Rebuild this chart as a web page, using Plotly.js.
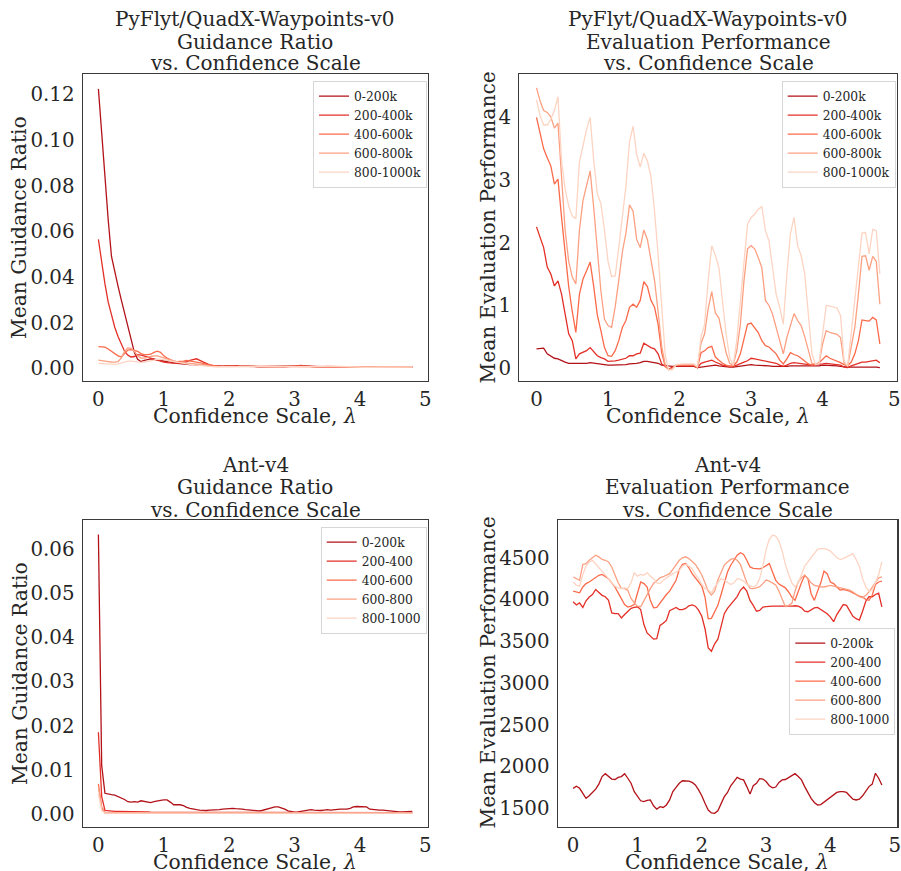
<!DOCTYPE html>
<html><head><meta charset="utf-8">
<script src="https://cdn.plot.ly/plotly-3.0.1.min.js"></script>
<style>html,body{margin:0;padding:0;background:#fff}#chart{width:901px;height:871px}</style>
</head><body><div id="chart"></div>
<script>
// x grid: confidence scale lambda, 0 .. 4.8 in steps of 0.05
const lambdas = Array.from({length: 97}, (_, i) => Math.round(i * 5) / 100);

const labelsK = ['0-200k', '200-400k', '400-600k', '600-800k', '800-1000k'];
const labelsAnt = ['0-200k', '200-400', '400-600', '600-800', '800-1000'];
const lineColors = ['#b21218', '#e32f27', '#fb6a4a', '#fca082', '#fdd4c2'];

// ---------- PyFlyt guidance ratio ----------
const quadGuide0 = [0.1224,0.102,0.083,0.065,0.049,0.042,0.036,0.030,0.024,0.019,
0.012,0.007,0.004,0.003,0.0035,0.004,0.0042,0.004,0.0037,0.0034,
0.003,0.0028,0.0026,0.0024,0.0022,0.002,0.0019,0.0018,0.0017,0.0016,
0.0015,0.0014,0.0013,0.0012,0.0011,0.001,0.0009,
0.0009,0.001,0.0011,0.0012,0.0012,0.0012,0.0011,0.001,0.0009,0.0009,
0.0009,0.0008,0.0008,0.0008,0.0008,0.0009,0.0009,0.0008,0.0008,0.0008,
0.0008,0.0008,0.0009,0.001,0.0011,0.0012,0.0012,0.0011,0.001,0.0009,
0.0008,0.0008,0.0008,0.0008,0.0007,0.0007,0.0008,0.0008,0.0009,0.0008,
0.0008,0.0007,0.0007,0.0007,0.0007,0.0006,0.0006,0.0007,0.0007,0.0007,
0.0006,0.0006,0.0006,0.0006,0.0006,0.0007,0.0007,0.0007,0.0007,0.0007];
const quadGuide1 = [0.0565,0.046,0.037,0.029,0.023,0.018,0.014,0.0105,0.0075,0.0058,
0.005,0.0052,0.006,0.0058,0.0055,0.005,0.0045,0.004,0.0035,0.003,
0.0027,0.0025,0.0023,0.0022,0.0022,0.0023,0.0025,0.003,0.0035,0.004,
0.0042,0.0035,0.0028,0.002,0.0015,0.0012,0.001,0.0009,0.0009,0.001,
0.0011,0.0012,0.0011,0.001,0.0009,0.0008,0.0008,0.0008,0.0007,0.0007,
0.0007,0.0008,0.0008,0.0007,0.0007,0.0006,0.0006,0.0007,0.0008,0.001,
0.0011,0.0012,0.0013,0.0011,0.0009,0.0008,0.0007,0.0007,0.0007,0.0006,
0.0006,0.0007,0.0009,0.0009,0.0008,0.0007,0.0007,0.0006,0.0006,0.0006,
0.0007,0.0007,0.0006,0.0006,0.0005,0.0005,0.0006,0.0006,0.0006,0.0005,
0.0005,0.0005,0.0006,0.0006,0.0006,0.0006,0.0006];
const quadGuide2 = [0.0095,0.0095,0.0093,0.0085,0.0075,0.0065,0.0055,0.005,0.0065,0.008,
0.0082,0.008,0.0075,0.0065,0.006,0.006,0.0062,0.007,0.0075,0.007,
0.0055,0.0045,0.0038,0.0032,0.003,0.003,0.0032,0.0035,0.0033,0.003,
0.0028,0.0025,0.0022,0.0018,0.0015,0.0012,0.001,0.0009,0.0009,0.001,
0.001,0.001,0.0009,0.0009,0.0008,0.0008,0.0008,0.0009,0.0009,0.0008,
0.0008,0.0008,0.0007,0.0007,0.0008,0.0008,0.0007,0.0007,0.0008,0.0008,
0.0009,0.0009,0.0008,0.0008,0.0007,0.0007,0.0008,0.0008,0.0009,0.0008,
0.0008,0.0008,0.0007,0.0007,0.0007,0.0008,0.0008,0.0007,0.0007,0.0007,
0.0006,0.0006,0.0006,0.0007,0.0007,0.0007,0.0006,0.0006,0.0006,0.0006,
0.0006,0.0006,0.0005,0.0005,0.0006,0.0006,0.0006];
const quadGuide3 = [0.0036,0.0035,0.0033,0.003,0.0028,0.0027,0.003,0.0045,0.0075,0.009,
0.0088,0.0075,0.0055,0.0045,0.0045,0.005,0.0052,0.0055,0.0055,0.005,
0.0045,0.004,0.0035,0.003,0.0028,0.0026,0.0025,0.0025,0.0024,0.0022,
0.002,0.0018,0.0015,0.0012,0.001,0.0009,0.0008,0.0008,0.0008,0.0008,
0.0008,0.0008,0.0008,0.0007,0.0007,0.0007,0.0007,0.0008,0.0008,0.0007,
0.0007,0.0006,0.0006,0.0006,0.0007,0.0007,0.0006,0.0006,0.0006,0.0006,
0.0007,0.0007,0.0007,0.0006,0.0006,0.0006,0.0006,0.0007,0.0008,0.0009,
0.0010,0.0009,0.0008,0.0007,0.0006,0.0006,0.0006,0.0006,0.0006,0.0007,
0.0007,0.0007,0.0006,0.0005,0.0005,0.0005,0.0006,0.0006,0.0006,0.0005,
0.0005,0.0005,0.0005,0.0006,0.0006,0.0006,0.0006];
const quadGuide4 = [0.0022,0.0021,0.002,0.0019,0.0018,0.0018,0.002,0.0025,0.003,0.0032,
0.0032,0.003,0.0028,0.0026,0.0028,0.003,0.0033,0.0036,0.004,0.004,
0.0038,0.0035,0.0032,0.003,0.0027,0.0025,0.0022,0.002,0.0018,0.0016,
0.0015,0.0013,0.0012,0.001,0.0009,0.0008,0.0008,0.0007,0.0007,0.0007,
0.0007,0.0006,0.0006,0.0006,0.0006,0.0006,0.0005,0.0005,0.0005,0.0006,
0.0006,0.0006,0.0006,0.0005,0.0005,0.0005,0.0005,0.0005,0.0006,0.0006,
0.0006,0.0006,0.0005,0.0005,0.0005,0.0005,0.0006,0.0006,0.0006,0.0005,
0.0005,0.0005,0.0006,0.0008,0.0009,0.0008,0.0007,0.0006,0.0006,0.0005,
0.0005,0.0005,0.0005,0.0005,0.0005,0.0005,0.0005,0.0005,0.0006,0.0006,
0.0006,0.0005,0.0005,0.0005,0.0005,0.0005,0.0006];

// ---------- PyFlyt evaluation performance ----------
const quadEval0 = [0.31,0.32,0.32,0.23,0.19,0.16,0.15,0.12,0.10,0.08,
0.08,0.07,0.07,0.07,0.08,0.09,0.08,0.08,0.07,0.06,
0.05,0.05,0.05,0.05,0.05,0.06,0.07,0.07,0.08,0.09,
0.11,0.11,0.10,0.09,0.08,0.05,0.04,0.03,0.03,0.03,
0.03,0.03,0.03,0.03,0.03,0.01,0.02,0.03,0.04,0.05,
0.05,0.04,0.03,0.03,0.02,0.02,0.03,0.04,0.05,0.06,
0.06,0.05,0.05,0.04,0.04,0.04,0.03,0.03,0.02,0.02,
0.03,0.04,0.04,0.04,0.04,0.04,0.03,0.03,0.04,0.04,
0.05,0.05,0.04,0.04,0.04,0.03,0.02,0.02,0.02,0.02,
0.02,0.03,0.03,0.02,0.02,0.02,0.01];
const quadEval1 = [2.25,2.08,1.92,1.61,1.50,1.31,1.39,1.18,0.86,0.55,
0.44,0.15,0.23,0.26,0.28,0.33,0.26,0.20,0.17,0.15,
0.11,0.11,0.12,0.13,0.14,0.16,0.20,0.20,0.23,0.24,
0.40,0.36,0.33,0.31,0.23,0.07,0.03,-0.01,0.02,0.04,
0.04,0.04,0.04,0.04,0.04,0.01,0.08,0.10,0.12,0.13,
0.10,0.07,0.05,0.04,0.03,0.03,0.05,0.08,0.10,0.12,
0.16,0.15,0.14,0.13,0.12,0.11,0.10,0.08,0.05,0.03,
0.05,0.08,0.09,0.08,0.08,0.07,0.06,0.05,0.06,0.06,
0.07,0.08,0.07,0.06,0.05,0.05,0.02,0.01,0.04,0.06,
0.07,0.10,0.10,0.11,0.13,0.13,0.09];
const quadEval2 = [3.99,3.75,3.49,3.35,3.22,2.93,3.01,2.40,1.80,1.30,
0.90,0.57,1.18,1.42,1.55,1.69,1.30,0.85,0.60,0.33,
0.20,0.19,0.28,0.44,0.65,0.76,0.97,1.02,0.97,1.08,
1.38,1.30,1.08,0.97,0.70,0.25,0.03,-0.02,0.00,0.05,
0.05,0.05,0.05,0.05,0.05,0.01,0.25,0.28,0.33,0.35,
0.18,0.13,0.08,0.05,0.03,0.04,0.10,0.23,0.49,0.70,
0.72,0.65,0.57,0.44,0.36,0.34,0.29,0.23,0.13,0.07,
0.15,0.25,0.22,0.20,0.16,0.12,0.07,0.05,0.06,0.09,
0.15,0.20,0.16,0.14,0.12,0.09,0.06,0.04,0.10,0.23,
0.44,0.77,0.76,0.75,0.81,0.77,0.39];
const quadEval3 = [4.46,4.25,4.10,4.07,4.00,3.82,3.90,3.00,2.20,1.70,
1.45,1.34,2.20,2.67,2.93,3.14,2.55,1.82,1.23,0.78,
0.68,0.65,0.98,1.40,1.85,2.15,2.60,2.50,2.05,1.92,
2.20,2.05,1.70,1.40,0.90,0.35,0.05,-0.02,-0.01,0.05,
0.06,0.06,0.06,0.06,0.06,0.02,0.40,0.55,0.95,1.22,
0.88,0.80,0.50,0.25,0.08,0.05,0.28,0.70,1.39,1.90,
1.95,1.90,1.76,1.60,1.08,1.00,0.86,0.65,0.44,0.23,
0.49,0.70,0.87,0.76,0.68,0.50,0.28,0.08,0.07,0.08,
0.39,0.60,0.57,0.56,0.54,0.49,0.08,0.04,0.33,0.65,
1.18,1.78,1.79,1.56,1.78,1.70,1.02];
const quadEval4 = [4.27,4.02,3.87,3.87,3.96,4.10,4.32,3.30,2.85,2.58,
2.42,2.38,3.28,3.55,3.80,3.99,3.30,2.78,2.62,2.20,
1.70,1.46,1.47,1.92,2.45,2.90,3.60,3.85,3.40,3.20,
3.42,3.30,3.05,2.50,1.80,1.00,0.20,-0.03,-0.02,0.06,
0.07,0.07,0.07,0.07,0.07,0.02,0.50,0.70,1.40,1.95,
1.80,1.60,1.08,0.55,0.17,0.05,0.45,1.10,1.70,2.29,
2.40,2.45,2.53,2.57,2.19,2.03,1.60,1.18,0.97,0.70,
1.50,2.14,2.40,1.95,1.79,1.50,0.86,0.23,0.06,0.07,
0.55,1.00,0.99,0.98,0.96,0.84,0.12,0.04,0.55,1.08,
1.60,2.15,2.16,1.82,2.21,2.19,1.50];

// ---------- Ant-v4 guidance ratio ----------
const antGuide0 = [0.0633,0.011,0.0047,0.0045,0.0044,0.0043,0.004,0.0037,0.0033,0.0028,
0.0027,0.0028,0.0027,0.003,0.0029,0.0027,0.0026,0.0028,0.003,0.0031,
0.0032,0.0032,0.0027,0.0021,0.0021,0.0021,0.0019,0.0015,0.0013,0.0011,
0.001,0.0009,0.0008,0.0008,0.0009,0.0009,0.001,0.001,0.0011,0.0012,
0.0012,0.0013,0.0012,0.0012,0.0011,0.001,0.0009,0.0008,0.0008,0.0007,
0.0008,0.001,0.0013,0.0015,0.0016,0.0016,0.0014,0.0011,0.0007,0.0005,
0.0004,0.0005,0.0006,0.0008,0.0009,0.001,0.0009,0.0008,0.0008,0.0009,
0.001,0.0009,0.001,0.001,0.0011,0.0011,0.0011,0.0013,0.0016,0.0017,
0.0017,0.0017,0.0016,0.0011,0.001,0.001,0.0009,0.0009,0.0008,0.0008,
0.0007,0.0006,0.0005,0.0005,0.0005,0.0006,0.0006];
const antGuide1 = [0.0185,0.004,0.0008,0.0007,0.0007,0.0006,0.0006,0.0006,0.0005,0.0005,
0.0005,0.0005,0.0005,0.0005,0.0005,0.0005,0.0004,0.0004,0.0004,0.0004,
0.0004,0.0004,0.0004,0.0004,0.0003,0.0003,0.0003,0.0003,0.0003,0.0003,
0.0003,0.0003,0.0003,0.0003,0.0003,0.0003,0.0003,0.0003,0.0003,0.0004,
0.0004,0.0004,0.0004,0.0004,0.0003,0.0003,0.0003,0.0003,0.0003,0.0003,
0.0003,0.0003,0.0003,0.0003,0.0003,0.0003,0.0003,0.0003,0.0003,0.0003,
0.0003,0.0003,0.0003,0.0003,0.0003,0.0003,0.0003,0.0003,0.0003,0.0003,
0.0003,0.0003,0.0003,0.0003,0.0003,0.0003,0.0003,0.0003,0.0003,0.0003,
0.0003,0.0003,0.0003,0.0003,0.0003,0.0003,0.0003,0.0003,0.0003,0.0003,
0.0003,0.0003,0.0003,0.0003,0.0003,0.0003,0.0003];
const antGuide2 = [0.0068,0.0015,0.0003,0.0003,0.0003,0.0003,0.0003,0.0003,0.0003,0.0003,
0.0003,0.0003,0.0003,0.0003,0.0003,0.0003,0.0003,0.0003,0.0003,0.0003,
0.0002,0.0002,0.0002,0.0002,0.0002,0.0002,0.0002,0.0002,0.0002,0.0002,
0.0002,0.0002,0.0002,0.0002,0.0002,0.0002,0.0002,0.0002,0.0002,0.0002,
0.0002,0.0002,0.0002,0.0002,0.0002,0.0002,0.0002,0.0002,0.0002,0.0002,
0.0002,0.0002,0.0002,0.0002,0.0002,0.0002,0.0002,0.0002,0.0002,0.0002,
0.0002,0.0002,0.0002,0.0002,0.0002,0.0002,0.0002,0.0002,0.0002,0.0002,
0.0002,0.0002,0.0002,0.0002,0.0002,0.0002,0.0002,0.0002,0.0002,0.0002,
0.0002,0.0002,0.0002,0.0002,0.0002,0.0002,0.0002,0.0002,0.0002,0.0002,
0.0002,0.0002,0.0002,0.0002,0.0002,0.0002,0.0002];
const antGuide3 = [0.0062,0.0012,0.0002,0.0002,0.0002,0.0002,0.0002,0.0002,0.0002,0.0002,
0.0002,0.0002,0.0002,0.0002,0.0002,0.0002,0.0002,0.0002,0.0002,0.0002,
0.0002,0.0002,0.0002,0.0002,0.0002,0.0002,0.0002,0.0002,0.0002,0.0002,
0.0002,0.0002,0.0002,0.0002,0.0002,0.0002,0.0002,0.0002,0.0002,0.0002,
0.0002,0.0002,0.0002,0.0002,0.0002,0.0002,0.0002,0.0002,0.0002,0.0002,
0.0002,0.0002,0.0002,0.0002,0.0002,0.0002,0.0002,0.0002,0.0002,0.0002,
0.0002,0.0002,0.0002,0.0002,0.0002,0.0002,0.0002,0.0002,0.0002,0.0002,
0.0002,0.0002,0.0002,0.0002,0.0002,0.0002,0.0002,0.0002,0.0002,0.0002,
0.0002,0.0002,0.0002,0.0002,0.0002,0.0002,0.0002,0.0002,0.0002,0.0002,
0.0002,0.0002,0.0002,0.0002,0.0002,0.0002,0.0002];
const antGuide4 = [0.0045,0.0008,0.0002,0.0002,0.0002,0.0002,0.0002,0.0002,0.0002,0.0002,
0.0002,0.0002,0.0002,0.0002,0.0002,0.0002,0.0002,0.0002,0.0002,0.0002,
0.0002,0.0002,0.0002,0.0002,0.0002,0.0002,0.0002,0.0002,0.0002,0.0002,
0.0002,0.0002,0.0002,0.0002,0.0002,0.0002,0.0002,0.0002,0.0002,0.0002,
0.0002,0.0002,0.0002,0.0002,0.0002,0.0002,0.0002,0.0002,0.0002,0.0002,
0.0002,0.0002,0.0002,0.0002,0.0002,0.0002,0.0002,0.0002,0.0002,0.0002,
0.0002,0.0002,0.0002,0.0002,0.0002,0.0002,0.0002,0.0002,0.0002,0.0002,
0.0002,0.0002,0.0002,0.0002,0.0002,0.0002,0.0002,0.0002,0.0002,0.0002,
0.0002,0.0002,0.0002,0.0002,0.0002,0.0002,0.0002,0.0002,0.0002,0.0002,
0.0002,0.0002,0.0002,0.0002,0.0002,0.0002,0.0002];

// ---------- Ant-v4 evaluation performance ----------
const antEval0 = [1739,1765,1740,1680,1620,1650,1690,1730,1790,1880,
1915,1880,1850,1845,1870,1880,1915,1860,1800,1700,
1640,1590,1580,1595,1600,1530,1490,1520,1510,1540,
1600,1700,1750,1800,1830,1830,1825,1810,1780,1720,
1650,1560,1480,1445,1440,1470,1560,1640,1690,1770,
1820,1870,1850,1840,1760,1670,1770,1800,1855,1850,
1820,1770,1745,1755,1810,1840,1845,1870,1890,1915,
1880,1840,1760,1680,1620,1570,1540,1545,1575,1610,
1630,1660,1690,1700,1700,1690,1650,1610,1600,1610,
1650,1700,1760,1790,1920,1860,1780];
const antEval1 = [3973,3935,3960,3905,3985,4030,4060,4121,4085,4050,
4033,3990,3840,3830,3832,3780,3820,3860,3895,3905,
3913,3880,3700,3600,3562,3525,3530,3690,3715,3750,
3865,3890,3905,3880,3880,3893,3925,3935,3920,3873,
3800,3650,3420,3380,3470,3525,3680,3830,3893,3940,
3990,4035,4110,4150,4100,3990,3930,3860,3870,3910,
3915,3921,3921,3921,3921,3921,3918,3913,3920,3925,
3920,3900,3860,3854,3880,3900,3905,3880,3860,3830,
3790,3734,3820,3880,3940,3930,3873,3800,3770,3754,
3860,3980,4033,4033,4060,4075,3913];
const antEval2 = [4100,4090,4080,4150,4190,4210,4240,4270,4290,4300,
4280,4250,4200,4150,4080,4000,3940,3910,3920,3940,
4080,4210,4190,4150,3990,3900,3905,3960,4010,4060,
4100,4170,4230,4360,4420,4430,4380,4310,4260,4210,
4160,4030,3770,3775,3850,3930,4060,4190,4330,4410,
4470,4530,4560,4540,4470,4390,4372,4370,4368,4380,
4400,4430,4330,4230,4185,4160,4140,4090,4030,3990,
4100,4200,4290,4250,4070,3990,4100,4200,4340,4310,
4210,4190,4150,4113,4120,4110,4100,4080,4060,4040,
4030,4000,3990,4050,4180,4210,4220];
const antEval3 = [4270,4250,4230,4420,4430,4470,4500,4530,4510,4480,
4470,4450,4390,4300,4200,4133,4130,4110,4013,3960,
3920,3914,3990,4073,4130,4193,4230,4260,4273,4290,
4310,4360,4420,4470,4500,4512,4490,4460,4420,4360,
4293,4200,4100,4053,4100,4233,4320,4413,4450,4480,
4492,4470,4420,4300,4200,4133,4130,4140,4153,4190,
4233,4220,4200,4173,4100,4000,3914,3930,3954,4100,
4213,4260,4293,4250,4200,4170,4160,4153,4150,4160,
4170,4160,4150,4140,4130,4120,4113,4090,4060,4033,
4020,4050,4093,4150,4213,4260,4270];
const antEval4 = [4210,4170,4160,4300,4400,4450,4470,4420,4380,4340,
4300,4250,4200,4160,4140,4130,4140,4130,4200,4320,
4280,4300,4290,4320,4280,4250,4200,4190,4230,4260,
4280,4310,4330,4350,4400,4420,4400,4370,4300,4250,
4180,4130,4120,4080,4150,4200,4250,4230,4200,4180,
4200,4250,4240,4220,4180,4160,4150,4170,4250,4400,
4600,4720,4770,4760,4700,4580,4420,4300,4200,4150,
4200,4300,4400,4450,4500,4560,4600,4610,4610,4600,
4580,4540,4500,4480,4490,4510,4530,4550,4480,4400,
4250,4150,4100,4110,4200,4300,4450];

const FONT = 'DejaVu Serif';
const TXT = '#262626';

const panels = [
  {series: [quadGuide0, quadGuide1, quadGuide2, quadGuide3, quadGuide4], labels: labelsK},
  {series: [quadEval0, quadEval1, quadEval2, quadEval3, quadEval4], labels: labelsK},
  {series: [antGuide0, antGuide1, antGuide2, antGuide3, antGuide4], labels: labelsAnt},
  {series: [antEval0, antEval1, antEval2, antEval3, antEval4], labels: labelsAnt}
];

const traces = [];
panels.forEach((p, pi) => {
  const n = pi + 1;
  p.series.forEach((vals, si) => {
    traces.push({
      x: lambdas.slice(0, vals.length), y: vals,
      xaxis: 'x' + (n > 1 ? n : ''), yaxis: 'y' + (n > 1 ? n : ''),
      mode: 'lines', name: p.labels[si],
      line: {color: lineColors[si], width: 1.3},
      legend: n > 1 ? 'legend' + n : 'legend',
      hoverinfo: 'skip'
    });
  });
});

const TICKSIZE = 19.8;
function xAxis(domain, anchor) {
  return {domain, anchor, range: [-0.24, 5.04], tickvals: [0,1,2,3,4,5],
    showgrid: false, zeroline: false, showline: true, mirror: true,
    linecolor: '#3a3a3a', linewidth: 1.2, ticks: '', ticklabeloverflow: 'allow',
    tickfont: {family: FONT, size: TICKSIZE, color: TXT}};
}
function yAxis(domain, anchor, range, tickvals, fmt) {
  return {domain, anchor, range, tickvals, tickformat: fmt,
    showgrid: false, zeroline: false, showline: true, mirror: true,
    linecolor: '#3a3a3a', linewidth: 1.2, ticks: 'outside', ticklen: 3,
    tickcolor: 'rgba(0,0,0,0)', tickfont: {family: FONT, size: TICKSIZE, color: TXT}};
}
function legendAt(x, y) {
  return {x, y, xanchor: 'left', yanchor: 'top', bgcolor: 'rgba(255,255,255,0.85)',
    bordercolor: '#d6d6d6', borderwidth: 1, font: {family: FONT, size: 12.3, color: TXT},
    tracegroupgap: 0, itemwidth: 30};
}

const W = 901, H = 871;
const px = v => v / W, py = v => 1 - v / H;
function ann(text, x, y, size, opts) {
  return Object.assign({text, x: px(x), y: py(y), xref: 'paper', yref: 'paper',
    showarrow: false, xanchor: 'center', yanchor: 'middle',
    font: {family: FONT, size: size, color: TXT}}, opts || {});
}
const TS = 20, LS = 20.3;

const topDom = [0.5629, 0.9150], botDom = [0.0502, 0.4026];
const annotations = [
  ann('PyFlyt/QuadX-Waypoints-v0', 255, 19.5, TS), ann('Guidance Ratio', 255, 41.8, TS), ann('vs. Confidence Scale', 255, 63.5, TS),
  ann('PyFlyt/QuadX-Waypoints-v0', 708, 19.5, TS), ann('Evaluation Performance', 708, 41.8, TS), ann('vs. Confidence Scale', 708, 63.5, TS),
  ann('Ant-v4', 255, 465.2, TS), ann('Guidance Ratio', 255, 487.5, TS), ann('vs. Confidence Scale', 255, 510.2, TS),
  ann('Ant-v4', 727, 465.2, TS), ann('Evaluation Performance', 727, 487.5, TS), ann('vs. Confidence Scale', 727, 510.2, TS),
  ann('Confidence Scale, <i>λ</i>', 255, 416, LS), ann('Confidence Scale, <i>λ</i>', 707.5, 416, LS),
  ann('Confidence Scale, <i>λ</i>', 255, 862, LS), ann('Confidence Scale, <i>λ</i>', 727, 862, LS),
  ann('Mean Guidance Ratio', 19.5, 227.5, LS, {textangle: -90}),
  ann('Mean Evaluation Performance', 488, 227.5, LS, {textangle: -90}),
  ann('Mean Guidance Ratio', 19.5, 673.5, LS, {textangle: -90}),
  ann('Mean Evaluation Performance', 487.5, 673, LS, {textangle: -90})
];

const layout = {
  width: W, height: H, margin: {l: 0, r: 0, t: 0, b: 0},
  paper_bgcolor: '#ffffff', plot_bgcolor: '#ffffff',
  font: {family: FONT, color: TXT},
  showlegend: true,
  xaxis: xAxis([0.0918, 0.4750], 'y'),
  yaxis: yAxis(topDom, 'x', [-0.0054, 0.1289], [0, 0.02, 0.04, 0.06, 0.08, 0.10, 0.12], '.2f'),
  xaxis2: xAxis([0.5764, 0.9956], 'y2'),
  yaxis2: yAxis(topDom, 'x2', [-0.197, 4.68], [0, 1, 2, 3, 4], 'd'),
  xaxis3: xAxis([0.0918, 0.4750], 'y3'),
  yaxis3: yAxis(botDom, 'x3', [-0.003, 0.0665], [0, 0.01, 0.02, 0.03, 0.04, 0.05, 0.06], '.2f'),
  xaxis4: xAxis([0.6190, 0.9959], 'y4'),
  yaxis4: yAxis(botDom, 'x4', [1273, 4948], [1500, 2000, 2500, 3000, 3500, 4000, 4500], 'd'),
  legend: legendAt(313 / W, py(80.7)),
  legend2: legendAt(781.7 / W, py(80.7)),
  legend3: legendAt(320.7 / W, py(526.7)),
  legend4: legendAt(789.3 / W, py(627.7)),
  annotations
};

Plotly.newPlot('chart', traces, layout, {displayModeBar: false, staticPlot: true});
</script>
</body></html>
